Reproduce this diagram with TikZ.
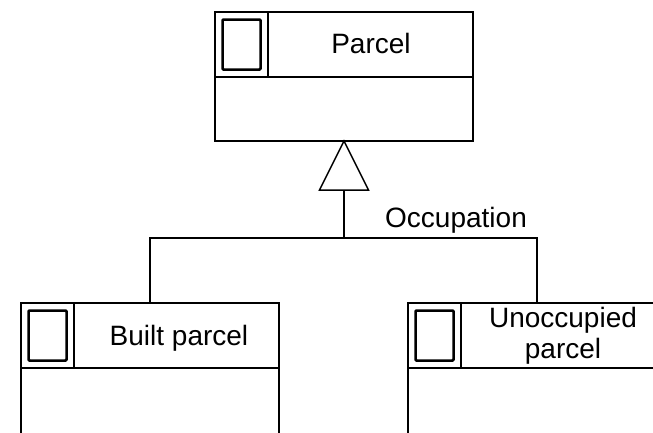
\documentclass[tikz,border=0pt]{standalone}
\usepackage{fontspec}
\setmainfont{Liberation Sans}
\usetikzlibrary{positioning,calc}

\begin{document}
\begin{tikzpicture}[x=1pt,y=-1pt,
    boxline/.style={draw,line width=2pt,inner sep=0pt,outer sep=0pt},
    classhead/.style={boxline,minimum width=258pt,minimum height=65pt,anchor=north west},
    classbody/.style={boxline,minimum width=258pt,minimum height=90pt},
    iconcell/.style={boxline,minimum width=53pt,minimum height=65pt,anchor=north west},
    iconbox/.style={draw,line width=2.5pt,rounded corners=1pt,minimum width=38pt,minimum height=50pt,inner sep=0pt},
    classname/.style={font=\fontsize{28}{31}\selectfont,align=center,inner sep=0pt},
    link/.style={line width=1.5pt}]
  \useasboundingbox (0,0) rectangle (653,432);
  % Parcel
  \node[classhead] (parcel) at (215,12) {};
  \node[iconcell] (parcelicon) at (parcel.north west) {};
  \node[iconbox] (parcelmark) at (parcelicon.center) {};
  \node[classname,anchor=base] (parcelname) at (371,53) {Parcel};
  \node[classbody,minimum height=64pt,below=0pt of parcel] (parcelbody) {};
  % Built parcel
  \node[classhead] (built) at (21,303) {};
  \node[iconcell] (builticon) at (built.north west) {};
  \node[iconbox] (builtmark) at (builticon.center) {};
  \node[classname,anchor=base] (builtname) at (179,345) {Built parcel};
  \node[classbody,below=0pt of built] (builtbody) {};
  % Unoccupied parcel
  \node[classhead] (unocc) at (408,303) {};
  \node[iconcell] (unoccicon) at (unocc.north west) {};
  \node[iconbox] (unoccmark) at (unoccicon.center) {};
  \node[classname] (unoccname) at (563,336) {Unoccupied\\parcel};
  \node[classbody,below=0pt of unocc] (unoccbody) {};
  % generalisation
  \coordinate (apex) at (parcelbody.south);
  \draw[link] (apex) -- ++(-24.5,49) coordinate (triL) -- ++(49,0) coordinate (triR) -- cycle;
  \coordinate (tribase) at ($(triL)!0.5!(triR)$);
  \coordinate (split) at ($(tribase)+(0,48)$);
  \draw[link] (tribase) -- (split);
  \draw[link] (built.north) |- (split) -| (unocc.north);
  \node[classname,anchor=base west] (occlabel) at (385,227) {Occupation};
\end{tikzpicture}
\end{document}
